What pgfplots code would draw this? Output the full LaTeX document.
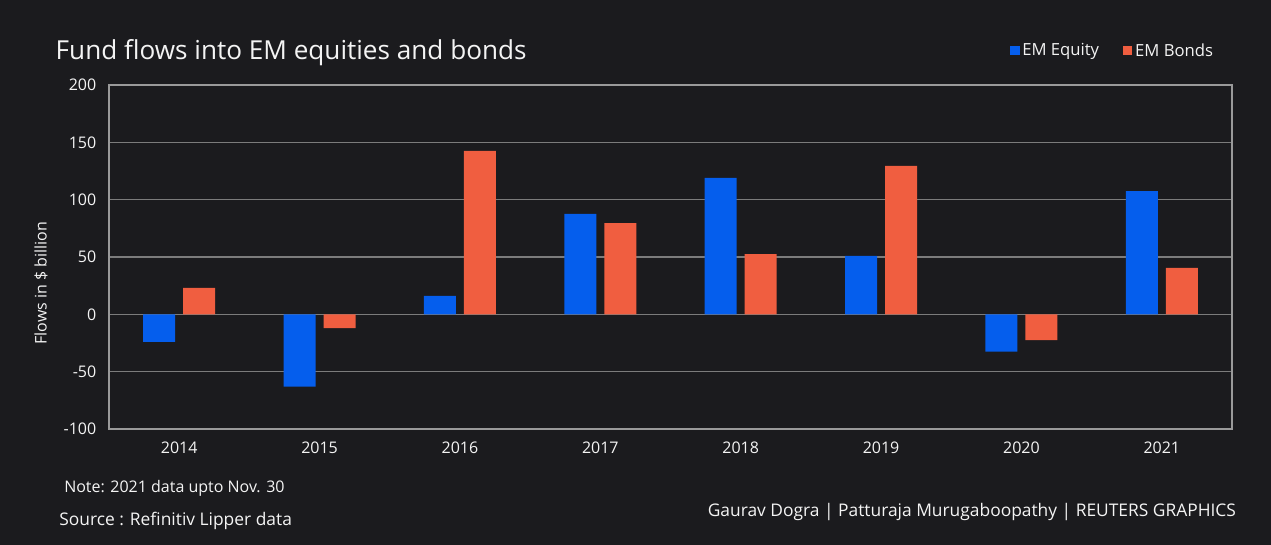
\documentclass[border=0pt]{standalone}
\usepackage{fontspec}
\setmainfont{Open Sans}
\usepackage{pgfplots}
\pgfplotsset{compat=1.18}
\definecolor{bg}{HTML}{1B1B1E}
\definecolor{eqblue}{HTML}{055EED}
\definecolor{bondor}{HTML}{F05E40}
\definecolor{gridc}{HTML}{7C7C7C}
\definecolor{framec}{HTML}{9A9A9A}
\definecolor{txt}{HTML}{F4F4F4}
\begin{document}
\begin{tikzpicture}
\fill[bg] (0pt,0pt) rectangle (953.25pt,408.75pt);
\begin{axis}[
  at={(81.75pt,87pt)}, anchor=south west,
  scale only axis, width=842.25pt, height=258pt,
  ybar=6pt, bar width=24pt,
  xmin=-0.5, xmax=7.5, ymin=-100, ymax=200,
  xtick={0,1,2,3,4,5,6,7},
  xticklabels={2014,2015,2016,2017,2018,2019,2020,2021},
  ytick={-100,-50,0,50,100,150,200},
  yticklabels={-100,-50,0,50,100,150,200},
  major tick length=0pt,
  ymajorgrids, grid style={draw=gridc, line width=0.8pt},
  axis line style={draw=framec, line width=0.9pt},
  tick label style={font=\fontsize{12}{14}\selectfont, text=txt},
  xticklabel style={yshift=-6pt},
  yticklabel style={xshift=-6pt},
  axis background/.style={fill=bg},
  legend style={at={(0.8023,1.0997)}, anchor=west, draw=none, fill=none,
    inner sep=0pt, font=\fontsize{12.5}{14}\selectfont, text=txt,
    legend columns=2, /tikz/every even column/.append style={column sep=16pt}},
  legend image code/.code={\fill[#1,draw=none] (0pt,-3.5pt) rectangle (7pt,3.5pt);},
]
\addplot[fill=eqblue, draw=none] coordinates {(0,-24) (1,-63) (2,16) (3,87.5) (4,119) (5,51) (6,-32.5) (7,107.5)};
\addlegendentry{EM Equity}
\addplot[fill=bondor, draw=none] coordinates {(0,23) (1,-12) (2,142.5) (3,79.5) (4,52.5) (5,129.5) (6,-22.5) (7,40.5)};
\addlegendentry{EM Bonds}
\end{axis}
\node[anchor=base west, text=txt, font=\fontsize{19.6}{22}\selectfont, inner sep=0pt] at (41.6pt,364.3pt) {Fund flows into EM equities and bonds};
\node[rotate=90, text=txt, font=\fontsize{12}{14}\selectfont, inner sep=0pt] at (30.75pt,196.5pt) {Flows in \$ billion};
\node[anchor=base west, text=txt, font=\fontsize{12}{14}\selectfont, inner sep=0pt] at (48pt,39.5pt) {Note: 2021 data upto Nov. 30};
\node[anchor=base west, text=txt, font=\fontsize{13.05}{15}\selectfont, inner sep=0pt] at (44.25pt,14.25pt) {Source : Refinitiv Lipper data};
\node[anchor=base east, text=txt, font=\fontsize{13.04}{15}\selectfont, inner sep=0pt] at (927.2pt,21.2pt) {Gaurav Dogra | Patturaja Murugaboopathy | REUTERS GRAPHICS};
\end{tikzpicture}
\end{document}
